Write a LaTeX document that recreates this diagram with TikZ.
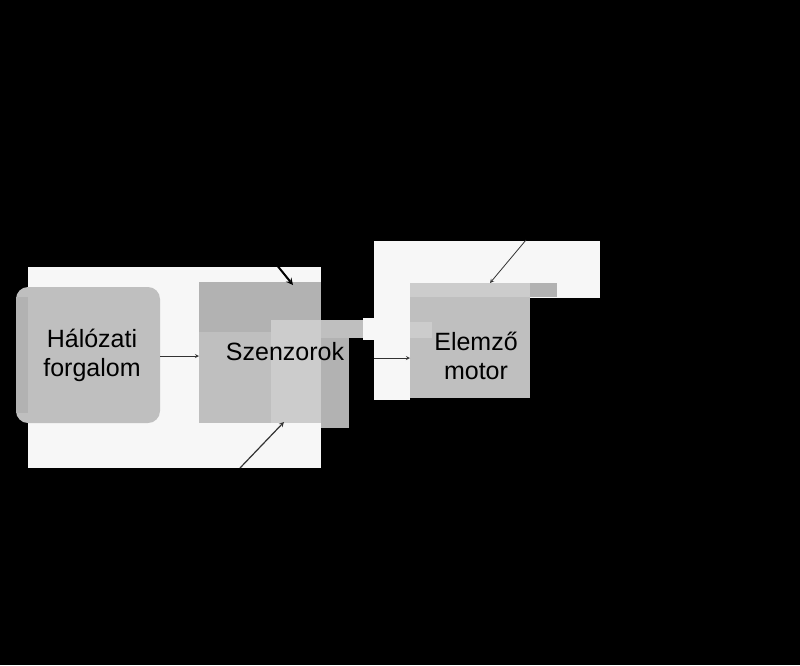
\documentclass[tikz,border=0pt]{standalone}
\usepackage{fontspec}
\setmainfont{Liberation Sans}
\begin{document}
\begin{tikzpicture}[x=1pt,y=-1pt,
  wh/.style={fill=white!97!black},
  g1/.style={fill=black!25},
  g2/.style={fill=black!30},
  g3/.style={fill=black!20},
  lbl/.style={font=\fontsize{25}{29}\selectfont, align=center, text=black},
  arr/.style={->, >=stealth, draw=black!80, line width=0.8pt}]
\fill[black] (0,0) rectangle (800,665);
\useasboundingbox (0,0) rectangle (800,665);
% white backgrounds
\fill[wh] (28,267) rectangle (321,468);
\fill[wh] (374,241) rectangle (600,298);
\fill[wh] (374,298) rectangle (410,400);
\fill[wh] (363,318) rectangle (374,340);
% Hálózati forgalom
\fill[g1, rounded corners=12pt] (16,287) rectangle (160,423);
\fill[g2] (16,297) rectangle (28,413);
\node[lbl] (h) at (92,355) {Hálózati\\forgalom};
\coordinate (hE) at (160,356);
% Szenzorok
\fill[g1] (199,282) rectangle (321,423);
\fill[g2] (199,282) rectangle (321,332);
\fill[g2] (321,320) rectangle (349,428);
\fill[g3] (271,320) rectangle (363,338);
\fill[g1] (321,320) rectangle (363,338);
\fill[g3] (271,338) rectangle (321,423);
\node[lbl] (s) at (285,352) {Szenzorok};
\coordinate (sW) at (199,356);
\coordinate (sE) at (374,358);
\coordinate (sT) at (293,285);
\coordinate (sTa) at (276,264);
\coordinate (sB) at (284,422);
\coordinate (sBa) at (240,468);
% Elemző motor
\fill[g1] (410,283) rectangle (530,398);
\fill[g3] (410,283) rectangle (530,297);
\fill[g2] (530,283) rectangle (557,297);
\fill[g3] (410,322) rectangle (432,338);
\node[lbl] (e) at (476,356) {Elemző\\motor};
\coordinate (eW) at (410,358);
\coordinate (eT) at (490,283);
\coordinate (eTa) at (526,240);
% arrows
\draw[arr] (hE) -- (sW);
\draw[arr] (sE) -- (eW);
\draw[arr] (eTa) -- (eT);
\draw[arr, line width=1.2pt] (sBa) -- (sB);
\draw[->, >=stealth, line width=2pt] (sTa) -- (sT);
\end{tikzpicture}
\end{document}
